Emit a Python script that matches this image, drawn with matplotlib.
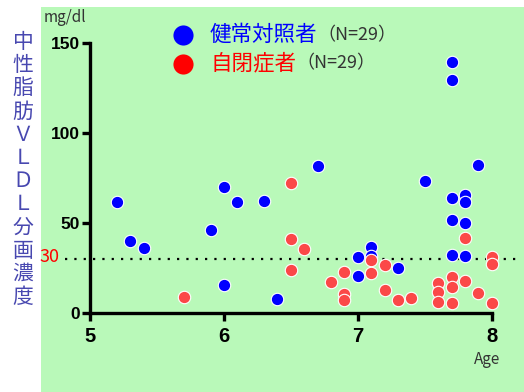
import matplotlib
matplotlib.use("Agg")
import matplotlib.pyplot as plt
from matplotlib.patches import Rectangle
from matplotlib.lines import Line2D

plt.rcParams['font.family'] = ['Noto Sans CJK JP', 'DejaVu Sans']

# 健常対照者 (age, mg/dl)
ctrl_age = [5.2, 5.3, 5.4, 5.9, 6.0, 6.1, 6.0, 6.3, 6.4, 6.7, 7.0, 7.0, 7.1, 7.1,
            7.3, 7.5, 7.7, 7.7, 7.7, 7.8, 7.8, 7.7, 7.8, 7.7, 7.8, 7.9]
ctrl_val = [61.7, 40.2, 36.3, 46.1, 70.3, 62.0, 15.7, 62.6, 7.8, 82.0, 31.5, 20.7, 37.0, 32.0,
            25.2, 73.7, 139.8, 129.6, 63.9, 65.7, 62.0, 51.8, 50.3, 32.6, 31.8, 82.4]

# 自閉症者
asd_age = [5.7, 6.5, 6.5, 6.6, 6.5, 6.8, 6.9, 6.9, 6.9, 7.1, 7.1, 7.2, 7.2, 7.3,
           7.4, 7.6, 7.6, 7.6, 7.8, 8.0, 8.0, 7.7, 7.8, 7.7, 7.7, 7.9, 8.0]
asd_val = [9.2, 72.2, 41.4, 35.7, 23.9, 17.6, 23.1, 10.7, 7.4, 29.6, 22.6, 26.8, 12.8, 7.4,
           8.3, 16.7, 11.7, 6.5, 41.7, 31.1, 27.4, 20.4, 18.0, 14.4, 5.5, 11.1, 5.9]

cutoff = 30
ylabel_chars = list("中性脂肪ＶＬＤＬ分画濃度")

W, H = 524, 392
fig = plt.figure(figsize=(W / 100, H / 100), dpi=100)
fig.patch.set_facecolor("white")
bg = Rectangle((41 / W, 0), 1 - 41 / W, (H - 7) / H, transform=fig.transFigure,
               facecolor="#b9f9b9", edgecolor="none", zorder=-5)
fig.add_artist(bg)

x0, x1 = 90, 511.8
y0, y1 = 313.3, 43.3
ax = fig.add_axes([x0 / W, (H - y0) / H, (x1 - x0) / W, (y0 - y1) / H])
ax.set_zorder(1)
ax.set_facecolor("none")
ax.set_xlim(5, 8.15)
ax.set_ylim(0, 150)

for s in ["top", "right"]:
    ax.spines[s].set_visible(False)
for s in ["left", "bottom"]:
    ax.spines[s].set_linewidth(2.4)
ax.spines["left"].set_bounds(0, 150)
ax.spines["bottom"].set_bounds(5, 8)
ax.set_xticks([5, 6, 7, 8])
ax.set_yticks([0, 50, 100, 150])
ax.tick_params(axis="both", width=2.4, length=6, direction="out")
ax.tick_params(axis="x", labelsize=14.5, pad=4)
ax.tick_params(axis="y", labelsize=12.5, pad=1)
for lab in ax.get_xticklabels() + ax.get_yticklabels():
    lab.set_fontweight("bold")
    lab.set_family("Liberation Sans")

ax.plot([4.81, 8.21], [cutoff, cutoff], color="black", lw=1.6,
        linestyle=(0, (1, 3.2)), clip_on=False, zorder=1)

ax.scatter(ctrl_age, ctrl_val, s=80, color="#0000ff", edgecolor="white", linewidth=0.8,
           clip_on=False, zorder=3)
ax.scatter(asd_age, asd_val, s=80, color="#fb4848", edgecolor="white", linewidth=0.8,
           clip_on=False, zorder=4)

# legend (manual, two-colour text)
lx = 182.7
for yy, col, name in [(35, "#0000ff", "健常対照者"), (63.5, "#ff0000", "自閉症者")]:
    fig.add_artist(Line2D([lx / W], [1 - yy / H], marker="o", markersize=14.5, color=col,
                          markeredgecolor="none", transform=fig.transFigure, zorder=3))
    t = fig.text(210 / W, 1 - yy / H, name, color=col, fontsize=15.5, va="center", ha="left")
    fig.add_artist(plt.Annotation("（N=29）", xy=(1, 0.5), xycoords=t, va="center", ha="left",
                                  fontsize=13, color="#333333"))

fig.text(44 / W, 1 - 17 / H, "mg/dl", fontsize=11, color="#333333", va="center", ha="left")
fig.text(500 / W, 1 - 360 / H, "Age", fontsize=11, color="#333333", va="center", ha="right")
fig.text(40 / W, 1 - 257 / H, "30", fontsize=13, color="#ff0000", va="center", ha="left")

step = (297 - 42) / (len(ylabel_chars) - 1)
for i, ch in enumerate(ylabel_chars):
    fig.text(23 / W, 1 - (42 + i * step) / H, ch, fontsize=15, color="#4848b0",
             va="center", ha="center")

fig.savefig("out.png", dpi=100)
